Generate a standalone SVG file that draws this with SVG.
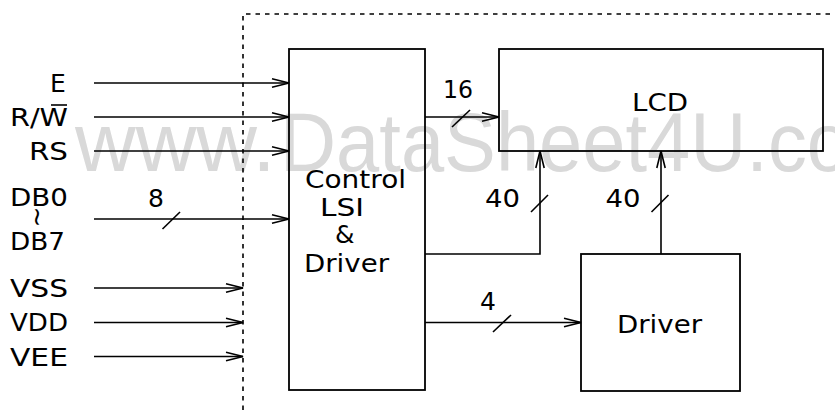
<svg xmlns="http://www.w3.org/2000/svg" width="835" height="410" viewBox="0 0 835 410">
<style>
.wm{font-family:"Liberation Sans",Arial,sans-serif;font-size:84px;fill:#d9d9d9}
.t{font-family:"DejaVu Sans","Liberation Sans",sans-serif;font-size:25px;fill:#000}
.box{fill:none;stroke:#000;stroke-width:1.8}
.ln{fill:none;stroke:#000;stroke-width:1.6}
.arr{marker-end:url(#ah)}
.dot{fill:none;stroke:#000;stroke-width:1.6;stroke-dasharray:4.5 5}
</style>
<defs>
<marker id="ah" viewBox="0 0 17 10" refX="17" refY="5" markerWidth="17" markerHeight="10" markerUnits="userSpaceOnUse" orient="auto" overflow="visible">
<path d="M0,0.8 L17,5 L0,9.2" fill="none" stroke="#000" stroke-width="1.6"/>
</marker>
</defs>
<rect width="835" height="410" fill="#fff"/>
<g id="watermark">
<text class="wm" x="75" y="171">www.</text>
<text class="wm" x="280" y="171" textLength="570" lengthAdjust="spacingAndGlyphs">DataSheet4U.co</text>
</g>
<g id="boundary">
<path class="dot" d="M243,410 V14 H835"/>
</g>
<g id="control">
<rect class="box" x="289" y="49" width="136" height="341"/>
<text class="t" x="305" y="188" textLength="101" lengthAdjust="spacingAndGlyphs">Control</text>
<text class="t" x="320" y="216" textLength="44" lengthAdjust="spacingAndGlyphs">LSI</text>
<text class="t" x="335" y="243">&amp;</text>
<text class="t" x="304" y="272" textLength="85" lengthAdjust="spacingAndGlyphs">Driver</text>
</g>
<g id="lcd">
<rect class="box" x="499" y="49" width="324" height="102"/>
<text class="t" x="632" y="111" textLength="56" lengthAdjust="spacingAndGlyphs">LCD</text>
</g>
<g id="driver">
<rect class="box" x="581" y="254" width="159" height="137"/>
<text class="t" x="617" y="333" textLength="85" lengthAdjust="spacingAndGlyphs">Driver</text>
</g>
<g id="labels">
<text class="t" x="50" y="92">E</text>
<text class="t" x="10" y="126" textLength="58" lengthAdjust="spacingAndGlyphs">R/W</text>
<line class="ln" x1="51" y1="105" x2="67" y2="105"/>
<text class="t" x="29" y="160" textLength="39" lengthAdjust="spacingAndGlyphs">RS</text>
<text class="t" x="10" y="206" textLength="58" lengthAdjust="spacingAndGlyphs">DB0</text>
<text class="t" x="0" y="0" font-size="14" text-anchor="middle" dominant-baseline="central" transform="translate(37,217) rotate(90)">~</text>
<text class="t" x="10" y="250" textLength="55" lengthAdjust="spacingAndGlyphs">DB7</text>
<text class="t" x="10" y="297" textLength="58" lengthAdjust="spacingAndGlyphs">VSS</text>
<text class="t" x="10" y="331" textLength="58" lengthAdjust="spacingAndGlyphs">VDD</text>
<text class="t" x="10" y="366" textLength="58" lengthAdjust="spacingAndGlyphs">VEE</text>
<text class="t" x="148" y="207">8</text>
<text class="t" x="443" y="98" textLength="30" lengthAdjust="spacingAndGlyphs">16</text>
<text class="t" x="485" y="207" textLength="35" lengthAdjust="spacingAndGlyphs">40</text>
<text class="t" x="605.5" y="207" textLength="35" lengthAdjust="spacingAndGlyphs">40</text>
<text class="t" x="480" y="310">4</text>
</g>
<g id="connectors">
<line class="ln arr" x1="94" y1="83" x2="289" y2="83"/>
<line class="ln arr" x1="94" y1="117" x2="289" y2="117"/>
<line class="ln arr" x1="94" y1="151" x2="289" y2="151"/>
<line class="ln arr" x1="94" y1="219" x2="289" y2="219"/>
<line class="ln" x1="162.5" y1="229" x2="180" y2="212"/>
<line class="ln arr" x1="94" y1="288" x2="243" y2="288"/>
<line class="ln arr" x1="94" y1="322.5" x2="243" y2="322.5"/>
<line class="ln arr" x1="94" y1="356.5" x2="243" y2="356.5"/>
<line class="ln arr" x1="425" y1="117" x2="499" y2="117"/>
<line class="ln" x1="452" y1="127" x2="470" y2="110"/>
<path class="ln arr" d="M425,254 H540 V151"/>
<line class="ln" x1="531" y1="212" x2="548" y2="195"/>
<line class="ln arr" x1="661" y1="254" x2="661" y2="151"/>
<line class="ln" x1="651.5" y1="212" x2="668.5" y2="195"/>
<line class="ln arr" x1="425" y1="322.5" x2="581" y2="322.5"/>
<line class="ln" x1="493" y1="332" x2="511" y2="315"/>
</g>
</svg>
